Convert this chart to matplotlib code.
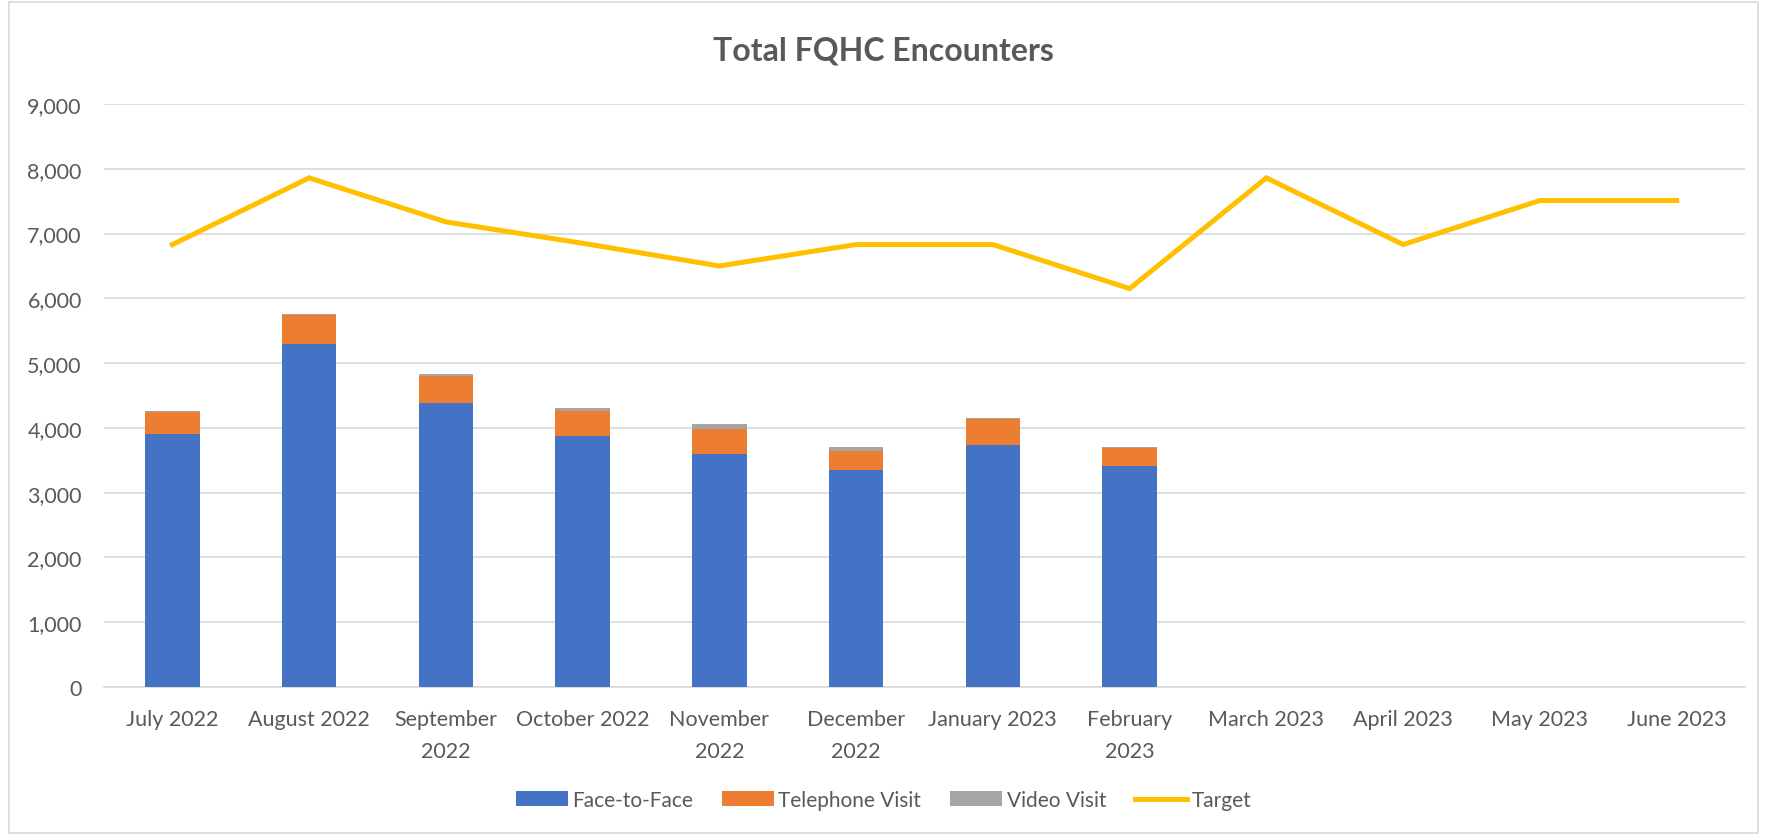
import numpy as np
import matplotlib.pyplot as plt
from matplotlib.patches import Rectangle

months = ["July 2022", "August 2022", "September\n2022", "October 2022", "November\n2022",
          "December\n2022", "January 2023", "February\n2023", "March 2023", "April 2023",
          "May 2023", "June 2023"]
face_to_face = [3910, 5300, 4390, 3875, 3600, 3350, 3740, 3410]
telephone = [330, 445, 405, 390, 385, 290, 400, 280]
video = [15, 20, 40, 45, 70, 65, 15, 10]
target = [6830, 7860, 7180, 6850, 6500, 6830, 6830, 6150, 7860, 6830, 7510, 7510]

plt.rcParams['font.family'] = ['Lato', 'DejaVu Sans']

fig = plt.figure(figsize=(17.67, 8.37), dpi=100)
ax = fig.add_axes([104 / 1767, 1 - 688 / 837, (1745 - 104) / 1767, (688 - 105) / 837])

x = np.arange(len(months))
xb = x[:len(face_to_face)]
f = np.array(face_to_face)
t = np.array(telephone)
v = np.array(video)
w = 0.4
ax.bar(xb, f, w, color="#4472C4", label="Face-to-Face", zorder=3)
ax.bar(xb, t, w, bottom=f, color="#ED7D31", label="Telephone Visit", zorder=3)
ax.bar(xb, v, w, bottom=f + t, color="#A5A5A5", label="Video Visit", zorder=3)
ax.plot(x, target, color="#FFC000", lw=3.6, solid_joinstyle="miter", label="Target", zorder=4)

ax.set_ylim(0, 9000)
ax.set_xlim(-0.5, len(months) - 0.5)
ax.set_yticks(range(0, 9001, 1000))
ax.set_yticklabels([f"{v:,}" for v in range(0, 9001, 1000)])
ax.set_xticks(x)
ax.set_xticklabels(months, linespacing=1.75)
ax.tick_params(axis="both", length=0, labelsize=15.5, colors="#595959")
ax.tick_params(axis="x", pad=16)
ax.tick_params(axis="y", pad=16)
ax.yaxis.grid(True, color="#D9D9D9", lw=1.2, zorder=0)
for s in ["top", "right", "left"]:
    ax.spines[s].set_visible(False)
ax.spines["bottom"].set_color("#D9D9D9")
ax.spines["bottom"].set_linewidth(1.2)

fig.suptitle("Total FQHC Encounters", y=1 - 51 / 837, va="center", fontsize=23,
             fontweight="bold", color="#595959")

handles, labels = ax.get_legend_handles_labels()
order = [1, 2, 3, 0]
fig.legend([handles[i] for i in order], [labels[i] for i in order], loc="center",
           bbox_to_anchor=(0.5, 1 - 801 / 837), ncol=4, frameon=False, fontsize=15,
           labelcolor="#595959", handlelength=2.5, handleheight=0.7, columnspacing=1.4,
           handletextpad=0.2)

fig.patches.append(Rectangle((0.005, 0.003), 0.99, 0.994, transform=fig.transFigure,
                             fill=False, edgecolor="#D9D9D9", lw=1.2))

fig.savefig("out.png", dpi=100)
